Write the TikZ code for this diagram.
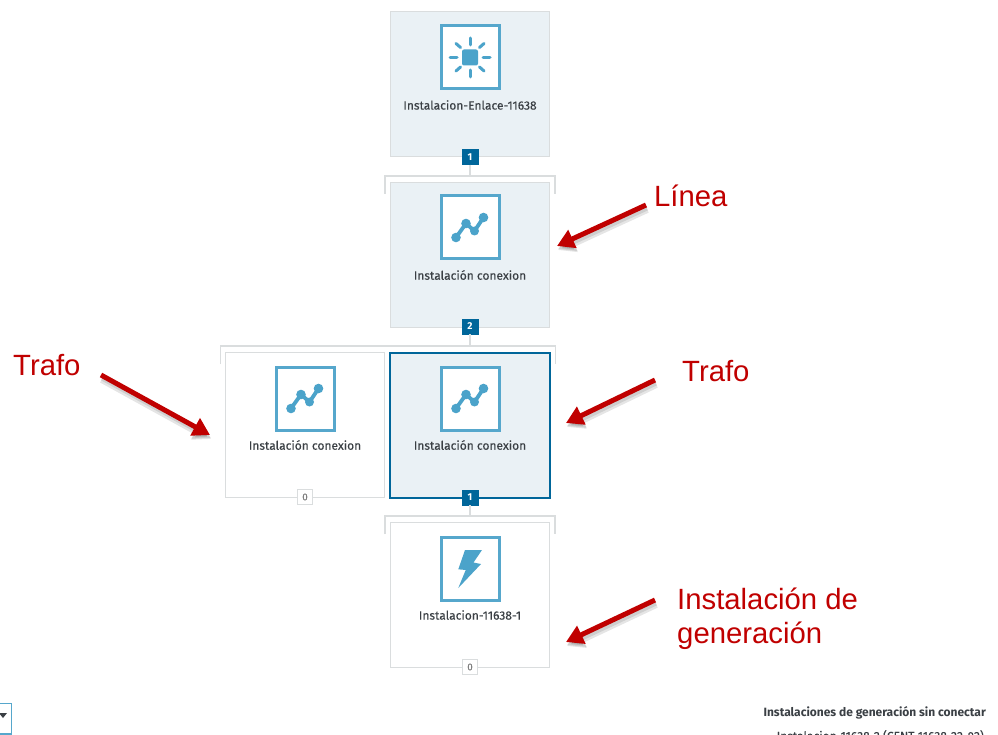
\documentclass[tikz,border=0pt]{standalone}
\usepackage{fontspec}
\setmainfont{Liberation Sans}
\newfontfamily\uifont[FakeBold=0.25]{Fira Sans}
\newfontfamily\uibold{Fira Sans}
\usetikzlibrary{arrows.meta}
\definecolor{paneBg}{HTML}{EAF1F5}
\definecolor{paneLine}{HTML}{DADDDE}
\definecolor{iconBlue}{HTML}{4BA3CA}
\definecolor{iconEdge}{HTML}{56A7CC}
\definecolor{navy}{HTML}{00669A}
\definecolor{noteRed}{HTML}{C00000}
\definecolor{uiText}{HTML}{3A3F44}
\tikzset{
  pane/.style={draw=paneLine,line width=1pt,fill=white,minimum width=159pt,minimum height=145pt,inner sep=0pt,outer sep=0pt},
  panefill/.style={pane,fill=paneBg},
  panesel/.style={pane,fill=paneBg,draw=navy,line width=2pt},
  iconbox/.style={draw=iconEdge,line width=3pt,fill=white,minimum width=58pt,minimum height=63pt,inner sep=0pt,outer sep=0pt},
  panelabel/.style={font=\uifont\fontsize{12}{14}\selectfont,text=uiText,inner sep=0pt},
  badgeon/.style={fill=navy,draw=navy,text=white,font=\uibold\bfseries\fontsize{10}{11}\selectfont,minimum width=16pt,minimum height=15pt,inner sep=0pt},
  badgeoff/.style={fill=white,draw=paneLine,line width=1pt,text=gray,font=\uifont\fontsize{10}{11}\selectfont,minimum width=15pt,minimum height=15pt,inner sep=0pt},
  bracket/.style={draw=paneLine,line width=1.3pt},
  link/.style={draw=paneLine,line width=1.3pt},
  note/.style={font=\fontsize{29.3}{33.5}\selectfont,text=noteRed,inner sep=0pt,align=left},
  notearrow/.style={draw=noteRed,line width=5pt,-{Triangle[length=17pt,width=19pt]}},
  arrowshade/.style={draw=black,opacity=0.1,line width=#1,-{Triangle[length=17pt,width=19pt]}},
  ray/.style={draw=iconBlue,line width=3pt,line cap=round},
  graphline/.style={draw=iconBlue,line width=3.8pt},
}
\newcommand{\graphicon}[1]{%
  \begin{scope}[shift={(#1)}]
    \draw[graphline] (-14,10) -- (-4,-4) -- (4.5,3.5) -- (13.5,-10);
    \fill[iconBlue] (-14,10) circle (4.8) (-4,-4) circle (4.8) (4.5,3.5) circle (4.5) (13.5,-10) circle (4.8);
  \end{scope}}
\newcommand{\notearrowdraw}[2]{%
  \draw[arrowshade=8pt] ([xshift=1pt,yshift=-4pt]#1) -- ([xshift=1pt,yshift=-4pt]#2);
  \draw[arrowshade=5pt] ([xshift=1pt,yshift=-3pt]#1) -- ([xshift=1pt,yshift=-3pt]#2);
  \draw[notearrow] (#1) -- (#2);}
\begin{document}
\begin{tikzpicture}[x=1pt,y=-1pt]
\useasboundingbox (0,0) rectangle (998,735);
% brackets
\coordinate (b1l) at (385,194); \coordinate (b1r) at (555,194);
\coordinate (b1t) at (470,176);
\coordinate (b2l) at (220.5,364); \coordinate (b2r) at (555.5,364);
\coordinate (b2t) at (470,346);
\coordinate (b3l) at (385,534); \coordinate (b3r) at (555,534);
\coordinate (b3t) at (470,516);
\draw[bracket] (b1l) |- (b1t) -| (b1r);
\draw[bracket] (b2l) |- (b2t) -| (b2r);
\draw[bracket] (b3l) |- (b3t) -| (b3r);
% panes
\node[panefill] (p1) at (470,84.5) {};
\node[panefill] (p2) at (470,255) {};
\node[pane] (p3) at (304.5,424.5) {};
\node[panesel,minimum width=159.5pt,minimum height=145.5pt] (p4) at (470,425.3) {};
\node[pane] (p5) at (470,595.3) {};
% icon boxes
\node[iconbox] (i1) at (470,57.5) {};
\node[iconbox] (i2) at (470,227.5) {};
\node[iconbox] (i3) at (305,398.5) {};
\node[iconbox] (i4) at (470,398.5) {};
\node[iconbox] (i5) at (470,568.5) {};
% sun
\fill[iconBlue,rounded corners=2pt] (462,49.5) rectangle (478,65.5);
\draw[ray] (470,38) -- (470,45);
\draw[ray] (470,70) -- (470,77);
\draw[ray] (450,57.5) -- (457,57.5);
\draw[ray] (483,57.5) -- (490,57.5);
\draw[ray] (456,43.5) -- (460.5,47.5);
\draw[ray] (484,43.5) -- (479.5,47.5);
\draw[ray] (456,71) -- (460.5,67);
\draw[ray] (484,71) -- (479.5,67);
% graph icons
\graphicon{470,227.5}
\graphicon{305,398.5}
\graphicon{470,398.5}
% bolt
\fill[iconBlue] (465,550) -- (482,550) -- (473.5,562.5) -- (481,564) -- (458.3,588) -- (465.7,570) -- (458.3,569.3) -- cycle;
% labels
\node[panelabel] (t1) at (470,105) {Instalacion-Enlace-11638};
\node[panelabel] (t2) at (470,275) {Instalación conexion};
\node[panelabel] (t3) at (305,445) {Instalación conexion};
\node[panelabel] (t4) at (470,445) {Instalación conexion};
\node[panelabel] (t5) at (470,615) {Instalacion-11638-1};
% badges
\node[badgeon] (c1) at (470,157) {1};
\node[badgeon] (c2) at (470,326.5) {2};
\node[badgeoff] (c3) at (305,497) {0};
\node[badgeon] (c4) at (470,497.5) {1};
\node[badgeoff] (c5) at (470,667) {0};
% connectors
\draw[link] (c1) -- (b1t);
\draw[link] (c2) -- (b2t);
\draw[link] (c4) -- (b3t);
% notes
\node[note,anchor=west] (n1) at (654,196) {Línea};
\node[note,anchor=west] (n2) at (13,365) {Trafo};
\node[note,anchor=west] (n3) at (682,371) {Trafo};
\node[note,anchor=north west] (n4) at (677,588) {Instalación de\\generación};
\coordinate (a1s) at (646,205); \coordinate (a1e) at (557,246);
\coordinate (a2s) at (101,375); \coordinate (a2e) at (210,435);
\coordinate (a3s) at (655,380); \coordinate (a3e) at (566,423);
\coordinate (a4s) at (655,600); \coordinate (a4e) at (566,642);
\notearrowdraw{a1s}{a1e}
\notearrowdraw{a2s}{a2e}
\notearrowdraw{a3s}{a3e}
\notearrowdraw{a4s}{a4e}
% cut-off page furniture
\draw[draw=iconEdge,line width=1.5pt] (-3,703.5) -- (11.5,703.5) -- (11.5,734) -- (-3,734);
\fill[uiText] (-1,713) -- (7,713) -- (3,718) -- cycle;
\node[panelabel,anchor=east,font=\uibold\bfseries\fontsize{12}{14}\selectfont] (h1) at (986,713) {Instalaciones de generación sin conectar};
\node[panelabel,anchor=east] (h2) at (984,736) {Instalacion-11638-2 (CENT-11638-22-02)};
\end{tikzpicture}
\end{document}
